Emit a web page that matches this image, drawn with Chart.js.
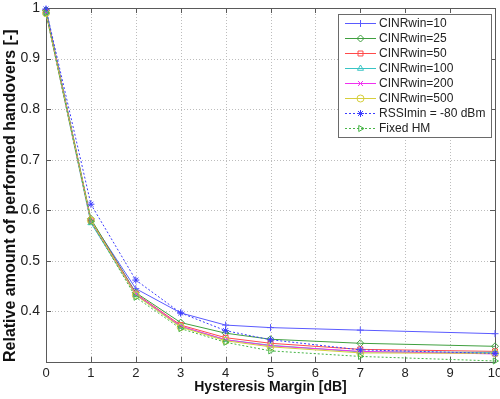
<!DOCTYPE html>
<html>
<head>
<meta charset="utf-8">
<script src="https://cdn.jsdelivr.net/npm/chart.js@4.4.1/dist/chart.umd.min.js"></script>
<style>
    html, body { margin: 0; padding: 0; background: #fff; }
    #wrap { width: 500px; height: 399px; }
</style>
</head>
<body>
<div id="wrap"><canvas id="hoChart" width="500" height="399"></canvas></div>
<script>
// Data
const margins = [0, 1, 2, 3, 4, 5, 7, 10];
const cinr10 = [0.997, 0.580, 0.445, 0.397, 0.373, 0.368, 0.363, 0.356];
const cinr25 = [0.995, 0.583, 0.437, 0.378, 0.357, 0.345, 0.337, 0.331];
const cinr50 = [0.992, 0.580, 0.435, 0.373, 0.348, 0.337, 0.325, 0.321];
const cinr100 = [0.990, 0.575, 0.433, 0.370, 0.344, 0.333, 0.320, 0.319];
const cinr200 = [0.991, 0.578, 0.434, 0.371, 0.344, 0.332, 0.321, 0.316];
const cinr500 = [0.990, 0.580, 0.432, 0.369, 0.342, 0.330, 0.318, 0.317];
const rssiMin = [0.998, 0.612, 0.462, 0.397, 0.362, 0.344, 0.324, 0.317];
const fixedHm = [0.990, 0.578, 0.428, 0.366, 0.339, 0.322, 0.311, 0.302];

const seriesNames = ["CINRwin=10", "CINRwin=25", "CINRwin=50", "CINRwin=100",
    "CINRwin=200", "CINRwin=500", "RSSImin = -80 dBm", "Fixed HM"];
const seriesValues = [cinr10, cinr25, cinr50, cinr100, cinr200, cinr500, rssiMin, fixedHm];
const seriesColors = ["#5a5aff", "#3f9f3f", "#ff4a4a", "#38c4c4", "#f030f0", "#d6cf3c", "#3c3cff", "#46b446"];
const seriesMarkers = ["cross", "rectRot", "rect", "triangle", "crossRot", "circle", "star", "triangle"];
const markerRotation = [0, 0, 0, 0, 0, 0, 0, 90];
const dotted = [false, false, false, false, false, false, true, true];

const yTicks = [0.4, 0.5, 0.6, 0.7, 0.8, 0.9, 1];

const datasets = seriesNames.map((name, i) => ({
    label: name,
    data: margins.map((m, j) => ({ x: m, y: seriesValues[i][j] })),
    borderColor: seriesColors[i],
    backgroundColor: "rgba(0,0,0,0)",
    pointBorderColor: seriesColors[i],
    pointBackgroundColor: "rgba(0,0,0,0)",
    pointStyle: seriesMarkers[i],
    pointRotation: markerRotation[i],
    pointRadius: 3.5,
    pointBorderWidth: 1,
    borderWidth: 1,
    borderDash: dotted[i] ? [2, 2] : [],
    tension: 0,
    fill: false,
    clip: false,
    order: seriesNames.length - i,
}));

function strokeLine(ctx, x1, y1, x2, y2) {
    ctx.beginPath();
    ctx.moveTo(x1, y1);
    ctx.lineTo(x2, y2);
    ctx.stroke();
}

// Matlab-like frame: dotted grid, box, inward ticks, boxed legend
const matlabFrame = {
    id: "matlabFrame",
    beforeDatasetsDraw(chart) {
        const { ctx, chartArea: a, scales: { x, y } } = chart;
        ctx.save();
        ctx.lineWidth = 1;
        ctx.strokeStyle = "#bdbdbd";
        ctx.setLineDash([1, 2]);
        x.ticks.forEach((t) => {
            const px = Math.round(x.getPixelForValue(t.value)) + 0.5;
            strokeLine(ctx, px, a.top, px, a.bottom);
        });
        y.ticks.forEach((t) => {
            const py = Math.round(y.getPixelForValue(t.value)) + 0.5;
            strokeLine(ctx, a.left, py, a.right, py);
        });
        ctx.setLineDash([]);
        ctx.strokeStyle = "#5a5a5a";
        ctx.strokeRect(Math.round(a.left) + 0.5, Math.round(a.top) + 0.5,
            Math.round(a.right - a.left), Math.round(a.bottom - a.top));
        x.ticks.forEach((t) => {
            const px = Math.round(x.getPixelForValue(t.value)) + 0.5;
            strokeLine(ctx, px, a.bottom, px, a.bottom - 5);
            strokeLine(ctx, px, a.top, px, a.top + 5);
        });
        y.ticks.forEach((t) => {
            const py = Math.round(y.getPixelForValue(t.value)) + 0.5;
            strokeLine(ctx, a.left, py, a.left + 5, py);
            strokeLine(ctx, a.right, py, a.right - 5, py);
        });
        ctx.restore();
    },
    afterDraw(chart) {
        const ctx = chart.ctx;
        const box = { left: 338, top: 14, width: 153, height: 123 };
        ctx.save();
        ctx.fillStyle = "#fff";
        ctx.fillRect(box.left, box.top, box.width, box.height);
        ctx.strokeStyle = "#6a6a6a";
        ctx.lineWidth = 1;
        ctx.strokeRect(box.left + 0.5, box.top + 0.5, box.width, box.height);
        ctx.font = "12px 'Liberation Sans', Arial, sans-serif";
        ctx.textBaseline = "middle";
        chart.data.datasets.forEach((ds, i) => {
            const rowY = 23.5 + i * 15;
            ctx.strokeStyle = ds.borderColor;
            ctx.setLineDash(ds.borderDash);
            strokeLine(ctx, 345, rowY, 376, rowY);
            ctx.setLineDash([]);
            ctx.fillStyle = "rgba(0,0,0,0)";
            Chart.helpers.drawPoint(ctx, {
                pointStyle: ds.pointStyle,
                rotation: ds.pointRotation,
                radius: 3.5,
                borderWidth: 1,
            }, 360.5, rowY);
            ctx.fillStyle = "#222";
            ctx.fillText(ds.label, 379, rowY + 0.5);
        });
        ctx.restore();
    },
};

new Chart(document.getElementById("hoChart"), {
    type: "line",
    data: { datasets },
    options: {
        responsive: false,
        devicePixelRatio: 1,
        animation: false,
        layout: { padding: { top: 8, right: 5, left: 0, bottom: 0 } },
        plugins: { legend: { display: false }, tooltip: { enabled: false } },
        scales: {
            x: {
                type: "linear",
                min: 0,
                max: 10,
                grid: { display: false, drawTicks: false },
                border: { display: false },
                ticks: {
                    stepSize: 1,
                    color: "#222",
                    padding: 4,
                    maxRotation: 0,
                    font: { family: "'Liberation Sans', Arial, sans-serif", size: 13 },
                },
                title: {
                    display: true,
                    text: "Hysteresis Margin [dB]",
                    color: "#111",
                    padding: { top: 0, bottom: 3 },
                    font: { family: "'Liberation Sans', Arial, sans-serif", size: 14, weight: "bold" },
                },
                afterFit(scale) {
                    scale.height = 37;
                    scale.paddingLeft = 0;
                    scale.paddingRight = 0;
                },
            },
            y: {
                type: "linear",
                min: 0.3,
                max: 1,
                grid: { display: false, drawTicks: false },
                border: { display: false },
                afterBuildTicks(scale) {
                    scale.ticks = yTicks.map((v) => ({ value: v }));
                },
                ticks: {
                    color: "#222",
                    padding: 6,
                    font: { family: "'Liberation Sans', Arial, sans-serif", size: 14 },
                    callback: (value) => (value === 1 ? "1" : value.toFixed(1)),
                },
                title: {
                    display: true,
                    align: "start",
                    text: "Relative amount of performed handovers [-]",
                    color: "#111",
                    padding: { top: 1, bottom: 0 },
                    font: { family: "'Liberation Sans', Arial, sans-serif", size: 16, weight: "bold" },
                },
                afterFit(scale) {
                    scale.width = 46;
                    scale.paddingTop = 0;
                    scale.paddingBottom = 0;
                },
            },
        },
    },
    plugins: [matlabFrame],
});
</script>
</body>
</html>
